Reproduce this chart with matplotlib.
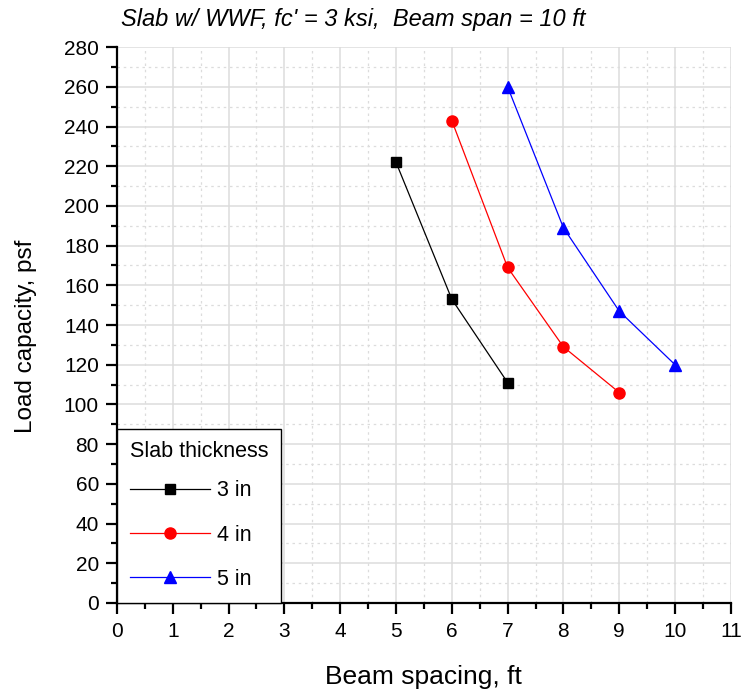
import matplotlib
matplotlib.use("Agg")
import matplotlib.pyplot as plt
from matplotlib.ticker import MultipleLocator

plt.rcParams['font.family'] = ['Liberation Sans', 'DejaVu Sans']

# Beam spacing (ft) and load capacity (psf) for each slab thickness
spacing_3in = [5, 6, 7]
capacity_3in = [222, 153, 111]
spacing_4in = [6, 7, 8, 9]
capacity_4in = [243, 169, 129, 106]
spacing_5in = [7, 8, 9, 10]
capacity_5in = [260, 189, 147, 120]
series_labels = ['3 in', '4 in', '5 in']

fig = plt.figure(figsize=(7.45, 6.93), dpi=100)
ax = fig.add_axes([0.157, 0.130, 0.824, 0.802])

ax.plot(spacing_3in, capacity_3in, color='black', lw=0.9, marker='s', ms=7.5, label=series_labels[0], zorder=3)
ax.plot(spacing_4in, capacity_4in, color='red', lw=0.9, marker='o', ms=8, label=series_labels[1], zorder=3)
ax.plot(spacing_5in, capacity_5in, color='blue', lw=0.9, marker='^', ms=9, label=series_labels[2], zorder=3)

ax.set_xlim(0, 11)
ax.set_ylim(0, 280)
ax.xaxis.set_major_locator(MultipleLocator(1))
ax.xaxis.set_minor_locator(MultipleLocator(0.5))
ax.yaxis.set_major_locator(MultipleLocator(20))
ax.yaxis.set_minor_locator(MultipleLocator(10))

ax.grid(which='major', color='#dcdcdc', lw=1.1, ls='-', zorder=0)
ax.grid(which='minor', color='#dcdcdc', lw=0.9, ls=(0, (2, 3)), zorder=0)
ax.set_axisbelow(True)

for side in ('top', 'right'):
    ax.spines[side].set_visible(False)
for side in ('left', 'bottom'):
    ax.spines[side].set_linewidth(1.6)

ax.tick_params(which='major', direction='out', length=8, width=1.6, labelsize=15, pad=5)
ax.tick_params(which='minor', direction='out', length=4, width=1.6)
ax.tick_params(axis='x', which='major', pad=6)

ax.set_xlabel('Beam spacing, ft', fontsize=19)
ax.set_ylabel('Load capacity, psf', fontsize=17.5)
ax.xaxis.set_label_coords(0.50, -0.111)
ax.yaxis.set_label_coords(-0.131, 0.48)

fig.text(0.163, 0.972, "Slab w/ WWF, fc' = 3 ksi,  Beam span = 10 ft",
         fontsize=17, style='italic', ha='left', va='center')

leg = ax.legend(title='Slab thickness', loc='lower left', bbox_to_anchor=(0, 0),
                fontsize=15.5, title_fontsize=15.5, fancybox=False, framealpha=1,
                edgecolor='black', borderaxespad=0, handlelength=3.7,
                labelspacing=1.08, borderpad=0.6, handletextpad=0.35)
leg.get_frame().set_linewidth(1)
leg._legend_box.align = 'left'
leg._legend_box.sep = 13

fig.savefig('out.png', dpi=100)
